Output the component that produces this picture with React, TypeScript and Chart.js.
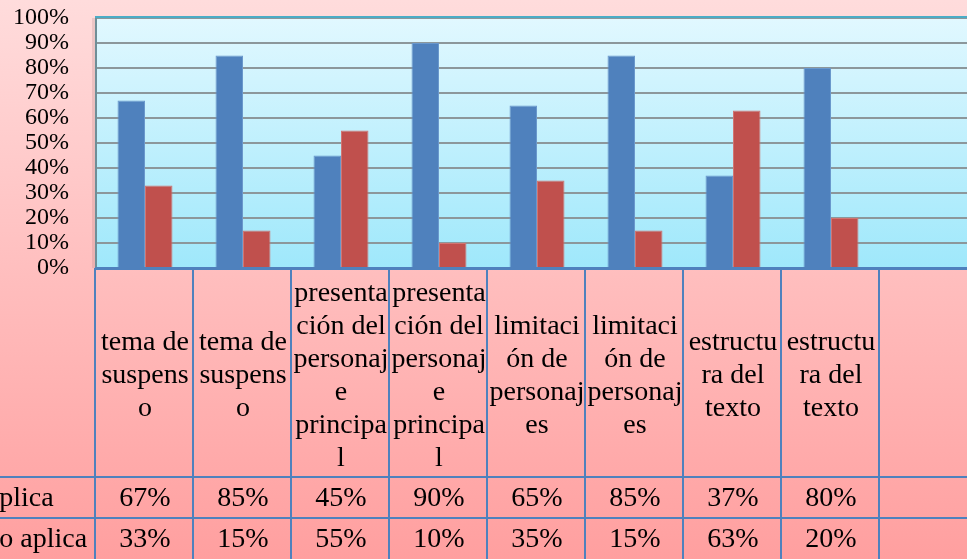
import React, { useEffect, useRef } from "react";
import { Chart, registerables } from "chart.js";

Chart.register(...registerables);

const categories = [
  "tema de suspenso",
  "tema de suspenso",
  "presentación del personaje principal",
  "presentación del personaje principal",
  "limitación de personajes",
  "limitación de personajes",
  "estructura del texto",
  "estructura del texto",
  "",
];
const aplica = [67, 85, 45, 90, 65, 85, 37, 80, null];
const noAplica = [33, 15, 55, 10, 35, 15, 63, 20, null];
const seriesNames = ["Aplica", "No aplica"];
const seriesColors = ["#4f81bd", "#c0504d"];

const OX = 40; // canvas is shifted left by this many px
const CW = 1040;
const CH = 570;
const FAMILY = "Liberation Serif";
const FONT = '28px "Liberation Serif"';
const TARGET = { left: 96 + OX, right: 978 + OX, top: 18, bottom: 268 };

function wrapText(ctx: CanvasRenderingContext2D, text: string, maxW: number): string[] {
  const words = text.split(" ").filter((w) => w.length);
  const lines: string[] = [];
  let cur = "";
  for (const w of words) {
    const tryLine = cur ? cur + " " + w : w;
    if (ctx.measureText(tryLine).width <= maxW) {
      cur = tryLine;
      continue;
    }
    if (cur) lines.push(cur);
    cur = "";
    let piece = "";
    for (const ch of w) {
      if (ctx.measureText(piece + ch).width <= maxW) piece += ch;
      else {
        lines.push(piece);
        piece = ch;
      }
    }
    cur = piece;
  }
  if (cur) lines.push(cur);
  return lines;
}

const tablePlugin = {
  id: "dataTable",
  beforeDraw(chart: any) {
    const { ctx, width, height, chartArea: a } = chart;
    ctx.save();
    let g = ctx.createLinearGradient(0, 0, 0, height);
    g.addColorStop(0, "#ffdcdc");
    g.addColorStop(1, "#ff9e9e");
    ctx.fillStyle = g;
    ctx.fillRect(0, 0, width, height);
    ctx.fillStyle = "rgba(150,110,110,0.18)";
    ctx.fillRect(a.left - 4, a.top, 3, a.bottom - a.top);
    g = ctx.createLinearGradient(0, a.top, 0, a.bottom);
    g.addColorStop(0, "#e1f8ff");
    g.addColorStop(1, "#9fe8fb");
    ctx.fillStyle = g;
    ctx.fillRect(a.left, a.top, a.right - a.left, a.bottom - a.top);
    ctx.restore();
  },
  afterDraw(chart: any) {
    const { ctx, width, height, chartArea: a } = chart;
    const n = categories.length;
    const cw = (a.right - a.left) / n;
    ctx.save();
    ctx.fillStyle = "#4bacc6";
    ctx.fillRect(a.left - 1, a.top - 2, a.right - a.left + 2, 2);
    ctx.fillStyle = "#4f81bd";
    ctx.fillRect(a.left - 1, a.bottom - 1, a.right - a.left + 2, 3);

    const headerBottom = 477;
    const row1Bottom = 518;
    const row2Bottom = 560;

    ctx.strokeStyle = "#4f81bd";
    ctx.lineWidth = 2;
    ctx.beginPath();
    for (let k = 0; k <= n; k++) {
      const x = Math.round(a.left + k * cw) - 1;
      ctx.moveTo(x, a.bottom);
      ctx.lineTo(x, height);
    }
    for (const y of [headerBottom, row1Bottom, row2Bottom]) {
      ctx.moveTo(0, y);
      ctx.lineTo(width, y);
    }
    ctx.stroke();

    ctx.fillStyle = "#000";
    ctx.font = FONT;
    ctx.textAlign = "center";
    ctx.textBaseline = "middle";
    const lh = 33;
    const headMid = 376;
    for (let i = 0; i < n; i++) {
      const cx = a.left + (i + 0.5) * cw;
      const lines = wrapText(ctx, categories[i], cw - 1);
      const y0 = headMid - ((lines.length - 1) * lh) / 2;
      lines.forEach((ln, j) => ctx.fillText(ln, cx, y0 + j * lh));
    }
    const rows = [aplica, noAplica];
    const rowMids = [(headerBottom + row1Bottom) / 2 + 1, (row1Bottom + row2Bottom) / 2 + 1];
    rows.forEach((vals, r) => {
      ctx.textAlign = "left";
      ctx.fillText(seriesNames[r], OX - 21, rowMids[r]);
      ctx.textAlign = "center";
      vals.forEach((v, i) => {
        if (v === null || v === undefined) return;
        ctx.fillText(v + "%", a.left + (i + 0.5) * cw, rowMids[r]);
      });
    });
    ctx.restore();
  },
};

export default function App() {
  const ref = useRef<HTMLCanvasElement | null>(null);
  useEffect(() => {
    if (!ref.current) return;
    const chart = new Chart(ref.current, {
      type: "bar",
      data: {
        labels: categories,
        datasets: [
          {
            label: seriesNames[0],
            data: aplica,
            backgroundColor: seriesColors[0],
            borderColor: "#6a98cc",
            borderWidth: 1,
          },
          {
            label: seriesNames[1],
            data: noAplica,
            backgroundColor: seriesColors[1],
            borderColor: "#d27572",
            borderWidth: 1,
          },
        ],
      },
      options: {
        animation: false,
        responsive: false,
        devicePixelRatio: 1,
        layout: {
          padding: { left: 0, right: CW - TARGET.right, top: TARGET.top, bottom: CH - TARGET.bottom },
        },
        datasets: { bar: { categoryPercentage: 0.561, barPercentage: 1 } },
        plugins: { legend: { display: false }, tooltip: { enabled: false } },
        scales: {
          x: { display: false },
          y: {
            min: 0,
            max: 100,
            ticks: {
              stepSize: 10,
              autoSkip: false,
              padding: 0,
              color: "#000",
              font: { family: FAMILY, size: 24, lineHeight: 1 },
              callback: (v: any) => v + "%",
            },
            grid: {
              color: "#8c979b",
              lineWidth: 2,
              drawTicks: true,
              tickLength: 27,
              tickColor: "rgba(0,0,0,0)",
            },
            border: { display: true, color: "#6f8e97", width: 2 },
            afterFit: (s: any) => {
              s.width = TARGET.left;
            },
          },
        },
      },
      plugins: [tablePlugin],
    });
    return () => chart.destroy();
  }, []);
  return (
    <div style={{ position: "absolute", left: 0, top: 0, width: 967, height: 559, overflow: "hidden" }}>
      <canvas
        ref={ref}
        width={CW}
        height={CH}
        style={{ position: "absolute", left: -OX, top: 0, width: CW, height: CH }}
      />
    </div>
  );
}
